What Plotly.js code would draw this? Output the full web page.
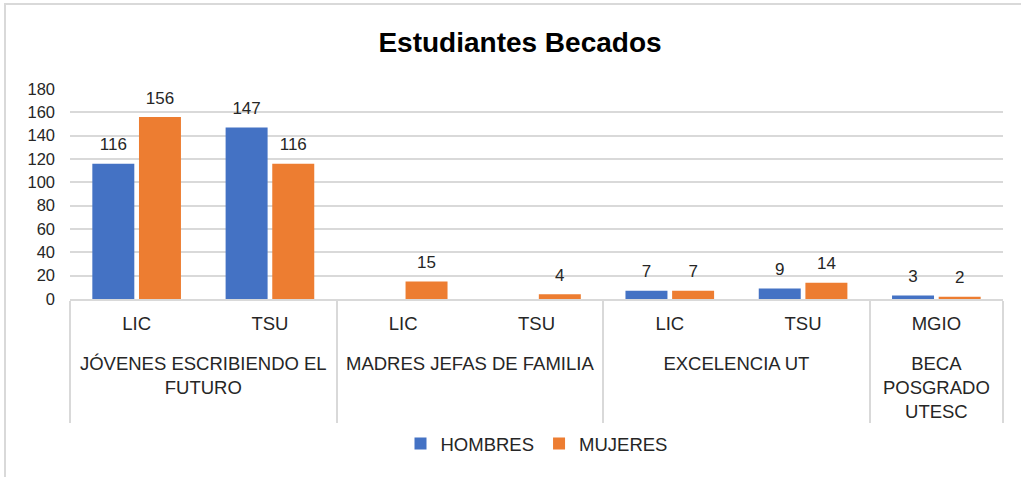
<!DOCTYPE html>
<html>
<head>
<meta charset="utf-8">
<script src="https://cdn.plot.ly/plotly-3.0.1.min.js"></script>
<style>
  html, body { margin: 0; padding: 0; background: #ffffff; }
  #wrap { position: relative; width: 1021px; height: 477px; overflow: hidden; }
  #frame { position: absolute; left: 4px; top: 3px; width: 1040px; height: 500px;
           border-left: 2px solid #d9d9d9; border-top: 2px solid #d9d9d9; box-sizing: border-box; }
  #chart { position: absolute; left: 0; top: 0; width: 1021px; height: 477px; }
</style>
</head>
<body>
<div id="wrap">
  <div id="frame"></div>
  <div id="chart"></div>
</div>
<script>
const groups = [
  "<br>JÓVENES ESCRIBIENDO EL<br>FUTURO", "<br>JÓVENES ESCRIBIENDO EL<br>FUTURO",
  "<br>MADRES JEFAS DE FAMILIA", "<br>MADRES JEFAS DE FAMILIA",
  "<br>EXCELENCIA UT", "<br>EXCELENCIA UT",
  "<br>BECA<br>POSGRADO<br>UTESC"
];
const subcats = ["LIC", "TSU", "LIC", "TSU", "LIC", "TSU", "MGIO"];
const hombres = [116, 147, null, null, 7, 9, 3];
const mujeres = [156, 116, 15, 4, 7, 14, 2];
const seriesNames = ["HOMBRES", "MUJERES"];
const seriesColors = ["#4472C4", "#ED7D31"];
const yTicks = [0, 20, 40, 60, 80, 100, 120, 140, 160, 180];

const font = "Liberation Sans, Arial, sans-serif";
const seriesValues = [hombres, mujeres];

const traces = [];
seriesValues.forEach((vals, k) => {
  traces.push({
    type: "bar", name: seriesNames[k], x: [groups, subcats], y: vals,
    offsetgroup: "g" + k,
    marker: { color: seriesColors[k] },
    hoverinfo: "y"
  });
});
// value labels, grouped with the bars so they sit above each bar
seriesValues.forEach((vals, k) => {
  traces.push({
    type: "scatter", mode: "markers+text", showlegend: false,
    x: [groups, subcats], y: vals, offsetgroup: "g" + k,
    marker: { size: 13, opacity: 0, color: seriesColors[k] },
    text: vals.map(v => v === null ? "" : String(v)),
    textposition: "top center", cliponaxis: false,
    textfont: { family: font, size: 17, color: "#262626" },
    hoverinfo: "skip"
  });
});

const layout = {
  width: 1021, height: 477,
  paper_bgcolor: "rgba(0,0,0,0)", plot_bgcolor: "rgba(0,0,0,0)",
  margin: { l: 70, r: 18, t: 89, b: 178 },
  font: { family: font, size: 16, color: "#262626" },
  title: { text: "<b>Estudiantes Becados</b>", x: 0.5093, xanchor: "center", y: 0.912, yanchor: "middle",
           font: { family: font, size: 28, color: "#000000" } },
  barmode: "group", bargap: 0.3, bargroupgap: 0.1,
  scattermode: "group", scattergap: 0.3,
  xaxis: {
    type: "multicategory",
    showline: true, linecolor: "#d9d9d9", linewidth: 2,
    showdividers: true, dividercolor: "#d9d9d9", dividerwidth: 2,
    ticks: "", ticklabelstandoff: 7,
    tickfont: { family: font, size: 18.5, color: "#262626" },
    showgrid: false
  },
  yaxis: {
    range: [0, 180], tickvals: yTicks, ticktext: yTicks.map(String),
    showgrid: true, gridcolor: "#d9d9d9", gridwidth: 2,
    zeroline: false, showline: false, ticks: "", ticklabelstandoff: 14,
    tickfont: { family: font, size: 16.5, color: "#262626" },
    fixedrange: true
  },
  showlegend: true,
  legend: { orientation: "h", x: 0.5, xanchor: "center", y: -0.69, yanchor: "middle",
            font: { family: font, size: 18.5, color: "#262626" }, itemwidth: 30 }
};

Plotly.newPlot("chart", traces, layout, { displayModeBar: false, staticPlot: true });
</script>
</body>
</html>
